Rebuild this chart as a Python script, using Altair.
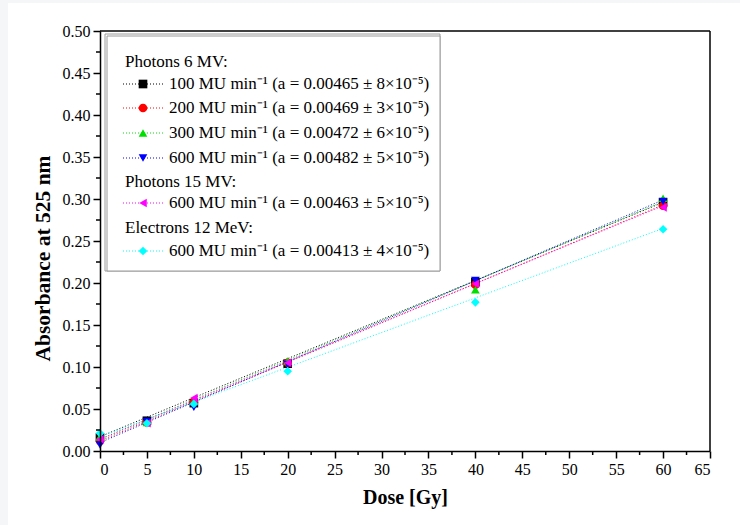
import altair as alt
import pandas as pd

# ---------------- data ----------------
doses = [0, 5, 10, 20, 40, 60]

series_ids = ["p6_100", "p6_200", "p6_300", "p6_600", "p15_600", "e12_600"]
series_labels = [
    "100 MU min\u207b\u00b9 (a = 0.00465 \u00b1 8\u00d710\u207b\u2075)",
    "200 MU min\u207b\u00b9 (a = 0.00469 \u00b1 3\u00d710\u207b\u2075)",
    "300 MU min\u207b\u00b9 (a = 0.00472 \u00b1 6\u00d710\u207b\u2075)",
    "600 MU min\u207b\u00b9 (a = 0.00482 \u00b1 5\u00d710\u207b\u2075)",
    "600 MU min\u207b\u00b9 (a = 0.00463 \u00b1 5\u00d710\u207b\u2075)",
    "600 MU min\u207b\u00b9 (a = 0.00413 \u00b1 4\u00d710\u207b\u2075)",
]
group_headings = ["Photons 6 MV:", "Photons 15 MV:", "Electrons 12 MeV:"]

abs_p6_100 = [0.016, 0.036, 0.057, 0.104, 0.201, 0.296]
abs_p6_200 = [0.012, 0.034, 0.058, 0.105, 0.198, 0.292]
abs_p6_300 = [0.017, 0.034, 0.059, 0.107, 0.192, 0.301]
abs_p6_600 = [0.007, 0.035, 0.052, 0.103, 0.203, 0.297]
abs_p15_600 = [0.014, 0.033, 0.063, 0.105, 0.199, 0.290]
abs_e12_600 = [0.021, 0.033, 0.056, 0.095, 0.177, 0.264]
all_abs = [abs_p6_100, abs_p6_200, abs_p6_300, abs_p6_600, abs_p15_600, abs_e12_600]

# fitted straight lines, read at dose 0 and dose 60
fit_dose = [0, 60]
fit_start = [0.017, 0.012, 0.014, 0.010, 0.014, 0.017]
fit_end = [0.296, 0.293, 0.297, 0.299, 0.292, 0.265]

x_ticks = list(range(0, 66, 5))
y_ticks = [0.00, 0.05, 0.10, 0.15, 0.20, 0.25, 0.30, 0.35, 0.40, 0.45, 0.50]
x_minor = [2.5 + 5 * i for i in range(13)]
y_minor = [0.025 + 0.05 * i for i in range(10)]

# ---------------- styling ----------------
colors = ["#000000", "#ff0000", "#00e000", "#0000ff", "#ff00ff", "#00ffff"]
shapes = ["square", "circle", "triangle-up", "triangle-down", "triangle-left", "diamond"]
FONT = "Liberation Serif"
W, H = 610, 420
X_MAX, Y_MAX = 65.0, 0.5
LEG_FS = 17


def px2x(px):
    return px / W * X_MAX


def py2y(py):
    return (H - py) / H * Y_MAX


pts = pd.DataFrame(
    [
        {"series": s, "dose": d, "absorbance": v}
        for s, vals in zip(series_ids, all_abs)
        for d, v in zip(doses, vals)
    ]
)
fits = pd.DataFrame(
    [
        {"series": s, "dose": fit_dose[0], "absorbance": a}
        for s, a in zip(series_ids, fit_start)
    ]
    + [
        {"series": s, "dose": fit_dose[1], "absorbance": b}
        for s, b in zip(series_ids, fit_end)
    ]
)

xscale = alt.Scale(domain=[0, X_MAX], nice=False)
yscale = alt.Scale(domain=[0, Y_MAX], nice=False)
color_enc = alt.Color("series:N", scale=alt.Scale(domain=series_ids, range=colors), legend=None)
shape_enc = alt.Shape("series:N", scale=alt.Scale(domain=series_ids, range=shapes), legend=None)

X = alt.X(
    "dose:Q",
    scale=xscale,
    axis=alt.Axis(values=x_ticks, title="Dose [Gy]", format="d", zindex=2, titleFontSize=20),
)
Y = alt.Y(
    "absorbance:Q",
    scale=yscale,
    axis=alt.Axis(
        values=y_ticks, title="Absorbance at 525 nm", format=".2f", zindex=2,
        titleFontSize=21.5, titleY=227, titlePadding=8,
    ),
)

one = pd.DataFrame({"k": [0]})

bg = alt.Chart(one).mark_rect(color="white").encode(
    x=alt.value(-92), x2=alt.value(W + 40), y=alt.value(-28), y2=alt.value(H + 80)
)

lines = alt.Chart(fits).mark_line(strokeDash=[1, 2], strokeWidth=1).encode(
    x=X, y=Y, color=color_enc, detail="series:N"
)

points = alt.Chart(pts).mark_point(filled=True, opacity=1, size=75).encode(
    x=X, y=Y, color=color_enc, shape=shape_enc
)

# frame (top and right)
frame_top = alt.Chart(one).mark_rule(color="black", strokeWidth=1.5).encode(
    x=alt.value(0), x2=alt.value(W), y=alt.value(0)
)
frame_right = alt.Chart(one).mark_rule(color="black", strokeWidth=1.5).encode(
    x=alt.value(W), y=alt.value(0), y2=alt.value(H)
)

# legend box (pixel layout)
BOX_R = 340
leg_box1 = alt.Chart(one).mark_rect(fill="white", stroke="#9a9a9a", strokeWidth=1).encode(
    x=alt.value(5), x2=alt.value(BOX_R), y=alt.value(3), y2=alt.value(240)
)
leg_box2 = alt.Chart(one).mark_rect(fill="white", stroke="#9a9a9a", strokeWidth=1).encode(
    x=alt.value(7), x2=alt.value(BOX_R), y=alt.value(5), y2=alt.value(240)
)

row_py = [53, 77, 102, 127, 172, 220]
head_py = [31, 151, 197]

leg_marks_df = pd.DataFrame(
    {
        "series": series_ids,
        "absorbance": [py2y(p) for p in row_py],
        "dose": [px2x(43)] * 6,
    }
)
leg_lines_df = pd.DataFrame(
    {
        "series": series_ids,
        "absorbance": [py2y(p) for p in row_py],
        "dose": [px2x(23)] * 6,
        "dose2": [px2x(63)] * 6,
    }
)
leg_text_df = pd.DataFrame(
    {
        "label": series_labels,
        "absorbance": [py2y(p) for p in row_py],
        "dose": [px2x(69)] * 6,
    }
)
leg_heads = pd.DataFrame(
    {
        "label": group_headings,
        "absorbance": [py2y(p) for p in head_py],
        "dose": [px2x(25)] * 3,
    }
)

leg_lines = alt.Chart(leg_lines_df).mark_rule(strokeDash=[1, 2], strokeWidth=1).encode(
    x=X, x2="dose2:Q", y=Y, color=color_enc
)
leg_marks = alt.Chart(leg_marks_df).mark_point(filled=True, opacity=1, size=75).encode(
    x=X, y=Y, color=color_enc, shape=shape_enc
)
leg_text = alt.Chart(leg_text_df).mark_text(
    align="left", baseline="middle", font=FONT, fontSize=LEG_FS, color="black"
).encode(x=X, y=Y, text="label:N")
leg_head_text = alt.Chart(leg_heads).mark_text(
    align="left", baseline="middle", font=FONT, fontSize=LEG_FS, color="black"
).encode(x=X, y=Y, text="label:N")

# minor ticks
xm = alt.Chart(pd.DataFrame({"dose": x_minor})).mark_rule(color="black", strokeWidth=1.5).encode(
    x=X, y=alt.value(H), y2=alt.value(H + 4)
)
ym = alt.Chart(pd.DataFrame({"absorbance": y_minor})).mark_rule(color="black", strokeWidth=1.5).encode(
    y=Y, x=alt.value(0), x2=alt.value(-4)
)

chart = (
    alt.layer(
        bg, lines, points, frame_top, frame_right, leg_box1, leg_box2,
        leg_lines, leg_marks, leg_text, leg_head_text, xm, ym,
    )
    .properties(
        width=W,
        height=H,
        autosize=alt.AutoSizeParams(type="none"),
        padding={"left": 100, "top": 31, "right": 30, "bottom": 74},
        background="#f4f6f8",
    )
    .configure_view(stroke=None)
    .configure_axis(
        labelFont=FONT,
        labelFontSize=16,
        labelColor="black",
        titleFont=FONT,
        titleFontWeight="bold",
        titleColor="black",
        domainColor="black",
        domainWidth=1.5,
        tickColor="black",
        tickWidth=1.5,
        tickSize=7,
        labelPadding=3,
        grid=False,
        titlePadding=10,
    )
)

chart.save("out.html", embed_options={"renderer": "svg", "actions": False})
